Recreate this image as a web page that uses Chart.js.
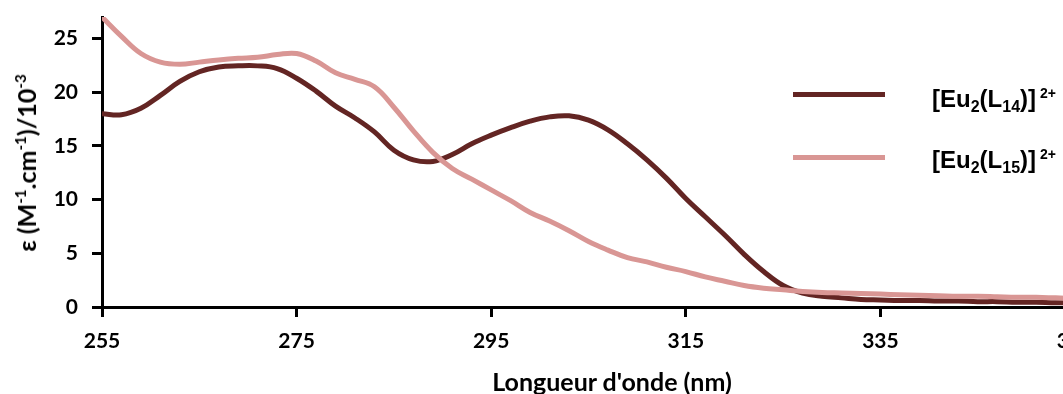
<!DOCTYPE html>
<html>
<head>
<meta charset="utf-8">
<script src="https://cdn.jsdelivr.net/npm/chart.js@4/dist/chart.umd.min.js"></script>
<style>
  html, body { margin: 0; padding: 0; background: #fff; }
  body { width: 1063px; height: 394px; overflow: hidden; position: relative; }
  #wrap { position: absolute; left: 0; top: 0; width: 1075px; height: 394px; }
  .txt { position: absolute; white-space: nowrap; color: #000; }
  .ytitle { font: bold 25px Lato, sans-serif; left: 26px; top: 163px; transform: translate(-50%, -50%) rotate(-90deg); }
  .ytitle sup { font-size: 15px; vertical-align: 10px; line-height: 0; }
  .xtitle { font: bold 25px Lato, sans-serif; left: 612px; top: 366px; transform: translateX(-50%); }
  .leg-line { position: absolute; left: 793px; width: 92px; height: 5px; }
  .leg-txt { font: bold 24px "Liberation Sans", Arial, sans-serif; left: 932px; line-height: 24px; }
  .leg-txt sub { font-size: 16px; vertical-align: -5px; line-height: 0; }
  .leg-txt sup { font-size: 14px; vertical-align: 9px; line-height: 0; margin-left: 4px; }
</style>
</head>
<body>
<div id="wrap"><canvas id="spectre"></canvas></div>
<div class="txt ytitle">ε (M<sup>-1</sup>.cm<sup>-1</sup>)/10<sup>-3</sup></div>
<div class="txt xtitle">Longueur d'onde (nm)</div>
<div class="leg-line" style="top:92px;background:#632523"></div>
<div class="txt leg-txt" style="top:87px">[Eu<sub>2</sub>(L<sub>14</sub>)]<sup>2+</sup></div>
<div class="leg-line" style="top:155px;background:#D99694"></div>
<div class="txt leg-txt" style="top:148px">[Eu<sub>2</sub>(L<sub>15</sub>)]<sup>2+</sup></div>
<script>
// longueurs d'onde (nm)
const wavelengths = [
  255, 257, 259, 261, 263, 265, 267, 269, 271, 273,
  275, 277, 279, 281, 283, 285, 287, 289, 291, 293,
  295, 297, 299, 301, 303, 305, 307, 309, 311, 313,
  315, 317, 319, 321, 323, 325, 327, 329, 331, 333,
  335, 337, 339, 341, 343, 345, 347, 349, 351, 353, 355
];
// epsilon / 10^3
const eu14 = [
  18.0, 17.9, 18.5, 19.7, 21.0, 21.9, 22.35, 22.45, 22.45, 22.2,
  21.3, 20.1, 18.7, 17.6, 16.3, 14.6, 13.7, 13.55, 14.2, 15.2,
  16.0, 16.7, 17.3, 17.7, 17.8, 17.4, 16.5, 15.2, 13.7, 12.0,
  10.1, 8.4, 6.7, 4.9, 3.3, 2.0, 1.3, 1.0, 0.85, 0.7,
  0.65, 0.6, 0.6, 0.55, 0.55, 0.5, 0.5, 0.45, 0.45, 0.4, 0.4
];
const eu15 = [
  27.0, 25.2, 23.6, 22.8, 22.6, 22.8, 23.0, 23.15, 23.25, 23.5,
  23.6, 22.9, 21.8, 21.2, 20.5, 18.6, 16.4, 14.4, 12.9, 11.9,
  10.9, 9.9, 8.8, 8.0, 7.1, 6.1, 5.3, 4.6, 4.2, 3.7,
  3.3, 2.8, 2.4, 2.0, 1.75, 1.6, 1.45, 1.35, 1.3, 1.25,
  1.2, 1.15, 1.1, 1.05, 1.0, 1.0, 0.95, 0.9, 0.9, 0.85, 0.8
];
const xTicks = [255, 275, 295, 315, 335, 355];
const yTicks = [0, 5, 10, 15, 20, 25];

const pts = (ys) => ys.map((v, i) => ({ x: wavelengths[i], y: v }));

const axisStyle = {
  border: { display: true, color: "#000", width: 3 },
  grid: { drawOnChartArea: false, drawTicks: true, tickLength: 10, tickWidth: 3, tickColor: "#000" },
};

new Chart(document.getElementById("spectre"), {
  type: "line",
  data: {
    datasets: [
      {
        label: "[Eu2(L14)]2+",
        data: pts(eu14),
        borderColor: "#632523",
        borderWidth: 5,
        pointRadius: 0,
        tension: 0.4,
        order: 2,
      },
      {
        label: "[Eu2(L15)]2+",
        data: pts(eu15),
        borderColor: "#D99694",
        borderWidth: 5,
        pointRadius: 0,
        tension: 0.4,
        order: 1,
      },
    ],
  },
  options: {
    responsive: true,
    maintainAspectRatio: false,
    animation: false,
    layout: { padding: { top: 17, left: 0, right: 0, bottom: 0 } },
    plugins: { legend: { display: false }, tooltip: { enabled: false } },
    scales: {
      x: {
        type: "linear",
        min: 255,
        max: 355,
        ...axisStyle,
        afterBuildTicks: (s) => { s.ticks = xTicks.map((v) => ({ value: v })); },
        afterFit: (s) => { s.height = 87; s.paddingLeft = 0; s.paddingRight = 0; },
        ticks: { color: "#000", padding: 12, font: { family: "Lato", weight: "bold", size: 21 }, maxRotation: 0 },
      },
      y: {
        min: 0,
        max: 27,
        ...axisStyle,
        afterBuildTicks: (s) => { s.ticks = yTicks.map((v) => ({ value: v })); },
        afterFit: (s) => { s.width = 102; s.paddingTop = 0; s.paddingBottom = 0; },
        ticks: { color: "#000", padding: 14, font: { family: "Lato", weight: "bold", size: 21 } },
      },
    },
  },
});
</script>
</body>
</html>
